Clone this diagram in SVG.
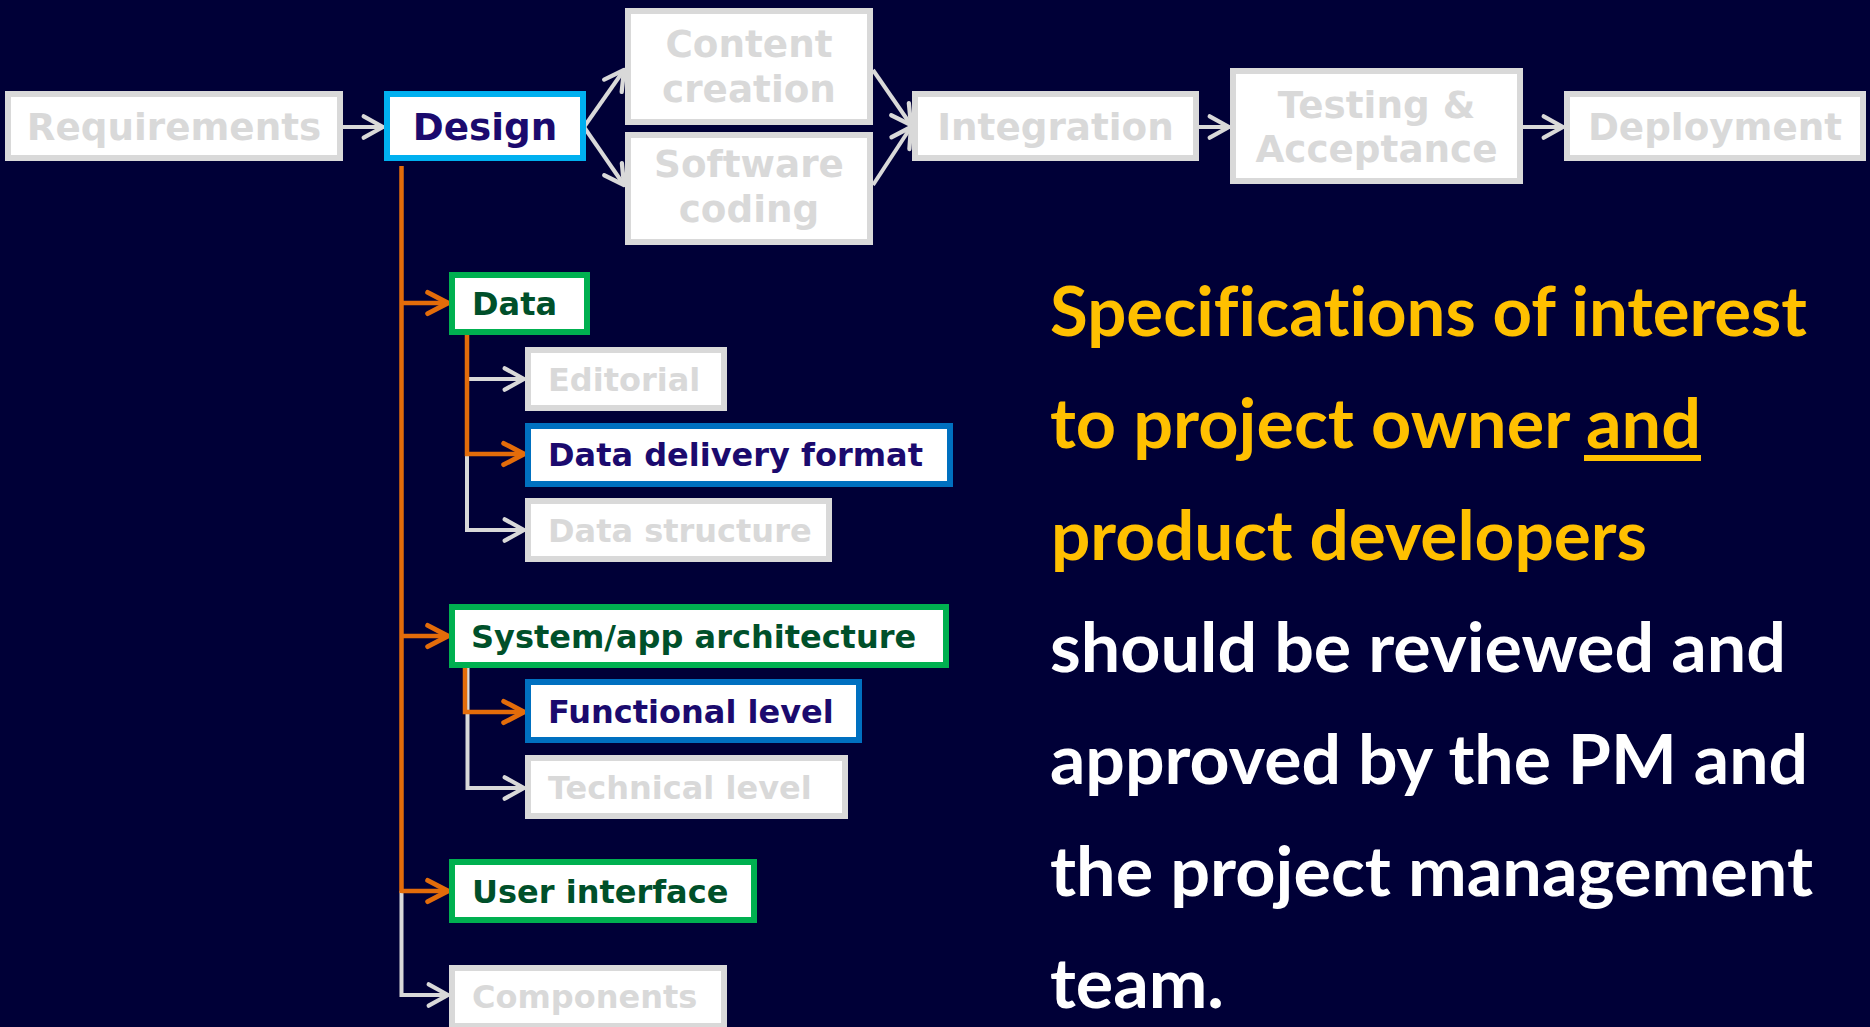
<svg xmlns="http://www.w3.org/2000/svg" width="1870" height="1027" viewBox="0 0 1870 1027">
<defs>
<style>
.box{fill:#ffffff;stroke-width:6}
.gb{stroke:#d9d9d9}
.cb{stroke:#00b0f0}
.grb{stroke:#00b050}
.bb{stroke:#0070c0}
.t{font-family:"DejaVu Sans","Verdana",sans-serif;font-weight:bold;font-size:37.3px}
.s{font-family:"DejaVu Sans","Verdana",sans-serif;font-weight:bold;font-size:32px}
.gt{fill:#d9d9d9}
.nt{fill:#1b0a6e}
.dg{fill:#00502a}
.c{text-anchor:middle}
.gl{stroke:#d9d9d9;stroke-width:4;fill:none}
.ol{stroke:#e36c0a;stroke-width:4.5;fill:none}
.ga{marker-end:url(#ag)}
.oa{marker-end:url(#ao)}
.r{font-family:Lato,"Open Sans",sans-serif;font-weight:bold;font-size:68px;font-variant-ligatures:none}
</style>
<marker id="ag" markerUnits="userSpaceOnUse" orient="auto" markerWidth="30" markerHeight="30" viewBox="-22 -14 26 28" refX="0" refY="0">
<path d="M-18,-10 L0,0 L-18,10" fill="none" stroke="#d9d9d9" stroke-width="4" stroke-linejoin="round" stroke-linecap="round"/>
</marker>
<marker id="ao" markerUnits="userSpaceOnUse" orient="auto" markerWidth="30" markerHeight="30" viewBox="-22 -14 26 28" refX="0" refY="0">
<path d="M-19,-10 L0,0 L-19,10" fill="none" stroke="#e36c0a" stroke-width="4.5" stroke-linejoin="round" stroke-linecap="round"/>
</marker>
</defs>
<rect x="0" y="0" width="1870" height="1027" fill="#000037"/>
<g id="connectors">
<line class="gl ga" x1="343" y1="127" x2="383" y2="127"/>
<line class="gl ga" x1="584" y1="127" x2="624" y2="70"/>
<line class="gl ga" x1="584" y1="127" x2="624" y2="185"/>
<line class="gl ga" x1="873" y1="70" x2="911" y2="125"/>
<line class="gl ga" x1="873" y1="185" x2="911" y2="127"/>
<line class="gl ga" x1="1199" y1="127" x2="1229" y2="127"/>
<line class="gl ga" x1="1523" y1="127" x2="1563" y2="127"/>
<polyline class="gl ga" points="401.5,891 401.5,995 448,995"/>
<line class="ol" x1="401.5" y1="166" x2="401.5" y2="893"/>
<line class="ol oa" x1="401.5" y1="303" x2="448" y2="303"/>
<line class="ol oa" x1="401.5" y1="636" x2="448" y2="636"/>
<line class="ol oa" x1="401.5" y1="891" x2="448" y2="891"/>
<line class="gl ga" x1="467" y1="379" x2="524" y2="379"/>
<polyline class="gl ga" points="467,454 467,530 524,530"/>
<polyline class="ol oa" points="467,335 467,454 524,454"/>
<polyline class="gl ga" points="467.5,667 467.5,788 524,788"/>
<polyline class="ol oa" points="465,667 465,712 524,712"/>
</g>
<g id="requirements"><rect class="box gb" x="8" y="94" width="332" height="64"/><text class="t gt c" x="174" y="140">Requirements</text></g>
<g id="design"><rect class="box cb" x="387" y="94" width="196" height="64"/><text class="t nt c" x="485" y="140">Design</text></g>
<g id="content-creation"><rect class="box gb" x="628" y="11" width="242" height="111"/><text class="t gt c" x="749" y="57">Content</text><text class="t gt c" x="749" y="102">creation</text></g>
<g id="software-coding"><rect class="box gb" x="628" y="135" width="242" height="107"/><text class="t gt c" x="749" y="177">Software</text><text class="t gt c" x="749" y="222">coding</text></g>
<g id="integration"><rect class="box gb" x="915" y="94" width="281" height="64"/><text class="t gt c" x="1055.5" y="140">Integration</text></g>
<g id="testing"><rect class="box gb" x="1233" y="71" width="287" height="110"/><text class="t gt c" x="1376.5" y="118">Testing &amp;</text><text class="t gt c" x="1376.5" y="162">Acceptance</text></g>
<g id="deployment"><rect class="box gb" x="1567" y="94" width="296" height="64"/><text class="t gt c" x="1715" y="140">Deployment</text></g>
<g id="data"><rect class="box grb" x="452" y="275" width="135" height="57"/><text class="s dg" x="472" y="315">Data</text></g>
<g id="editorial"><rect class="box gb" x="528" y="350" width="196" height="58"/><text class="s gt" x="548" y="391">Editorial</text></g>
<g id="data-delivery-format"><rect class="box bb" x="528" y="426" width="422" height="58"/><text class="s nt" x="548" y="466">Data delivery format</text></g>
<g id="data-structure"><rect class="box gb" x="528" y="501" width="301" height="58"/><text class="s gt" x="548" y="542">Data structure</text></g>
<g id="system-app-architecture"><rect class="box grb" x="452" y="607" width="494" height="58"/><text class="s dg" x="471" y="648">System/app architecture</text></g>
<g id="functional-level"><rect class="box bb" x="528" y="682" width="331" height="58"/><text class="s nt" x="548" y="723">Functional level</text></g>
<g id="technical-level"><rect class="box gb" x="528" y="758" width="317" height="58"/><text class="s gt" x="548" y="799">Technical level</text></g>
<g id="user-interface"><rect class="box grb" x="452" y="862" width="302" height="58"/><text class="s dg" x="472" y="903">User interface</text></g>
<g id="components"><rect class="box gb" x="452" y="968" width="272" height="58"/><text class="s gt" x="472" y="1008">Components</text></g>
<g id="note">
<text class="r" x="1050" y="336" fill="#ffc000" textLength="757" lengthAdjust="spacingAndGlyphs">Specifications of interest</text>
<text class="r" x="1050" y="448" fill="#ffc000" textLength="651" lengthAdjust="spacingAndGlyphs">to project owner and</text>
<rect x="1584" y="455" width="117" height="6" fill="#ffc000"/>
<text class="r" x="1051" y="560" fill="#ffc000" textLength="596" lengthAdjust="spacingAndGlyphs">product developers</text>
<text class="r" x="1050" y="672" fill="#ffffff" textLength="736" lengthAdjust="spacingAndGlyphs">should be reviewed and</text>
<text class="r" x="1050" y="784" fill="#ffffff" textLength="758" lengthAdjust="spacingAndGlyphs">approved by the PM and</text>
<text class="r" x="1050" y="896" fill="#ffffff" textLength="763" lengthAdjust="spacingAndGlyphs">the project management</text>
<text class="r" x="1050" y="1008" fill="#ffffff" textLength="174" lengthAdjust="spacingAndGlyphs">team.</text>
</g>
</svg>
